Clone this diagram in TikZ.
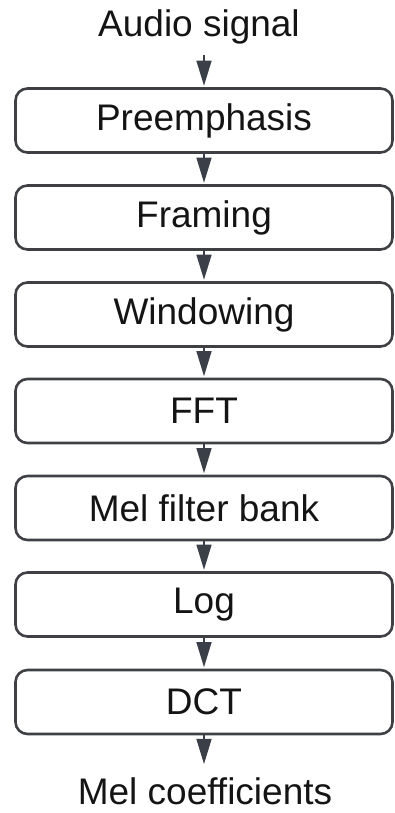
\documentclass[tikz,border=0pt]{standalone}
\usepackage{fontspec}
\setmainfont{Liberation Sans}
\usetikzlibrary{arrows.meta}
\definecolor{boxline}{HTML}{3E4044}
\definecolor{arrowc}{HTML}{3A3F48}
\definecolor{txt}{HTML}{141414}
\begin{document}
\begin{tikzpicture}[x=1pt,y=-1pt,
  stepbox/.style={draw=boxline, line width=2.6pt, rounded corners=12pt,
    minimum width=377pt, minimum height=64pt, inner sep=0pt,
    text=txt, font=\fontsize{37}{42}\selectfont},
  label/.style={inner sep=0pt, text=txt, font=\fontsize{37}{42}\selectfont},
  flow/.style={draw=arrowc, line width=1.3pt,
    -{Triangle[width=15pt,length=25pt]}, shorten >=1.5pt}]
  \useasboundingbox (0,0) rectangle (394,813);

  % input and output labels
  \node[label, anchor=base] (audio) at (199,37) {Audio signal};
  \node[label, anchor=base] (mel) at (205,804) {Mel coefficients};

  % processing stages
  \node[stepbox] (pre)  at (204,120.5) {Preemphasis};
  \node[stepbox] (fram) at (204,217.5) {Framing};
  \node[stepbox] (win)  at (204,314.5) {Windowing};
  \node[stepbox] (fft)  at (204,411)   {FFT};
  \node[stepbox] (mfb)  at (204,508)   {Mel filter bank};
  \node[stepbox] (log)  at (204,604.5) {Log};
  \node[stepbox] (dct)  at (204,702)   {DCT};

  % connectors
  \draw[flow, shorten <=10pt] (audio.south -| pre.north) -- (pre.north);
  \draw[flow] (pre.south)  -- (fram.north);
  \draw[flow] (fram.south) -- (win.north);
  \draw[flow] (win.south)  -- (fft.north);
  \draw[flow] (fft.south)  -- (mfb.north);
  \draw[flow] (mfb.south)  -- (log.north);
  \draw[flow] (log.south)  -- (dct.north);
  \draw[flow, shorten >=13pt] (dct.south) -- (dct.south |- mel.north);
\end{tikzpicture}
\end{document}
